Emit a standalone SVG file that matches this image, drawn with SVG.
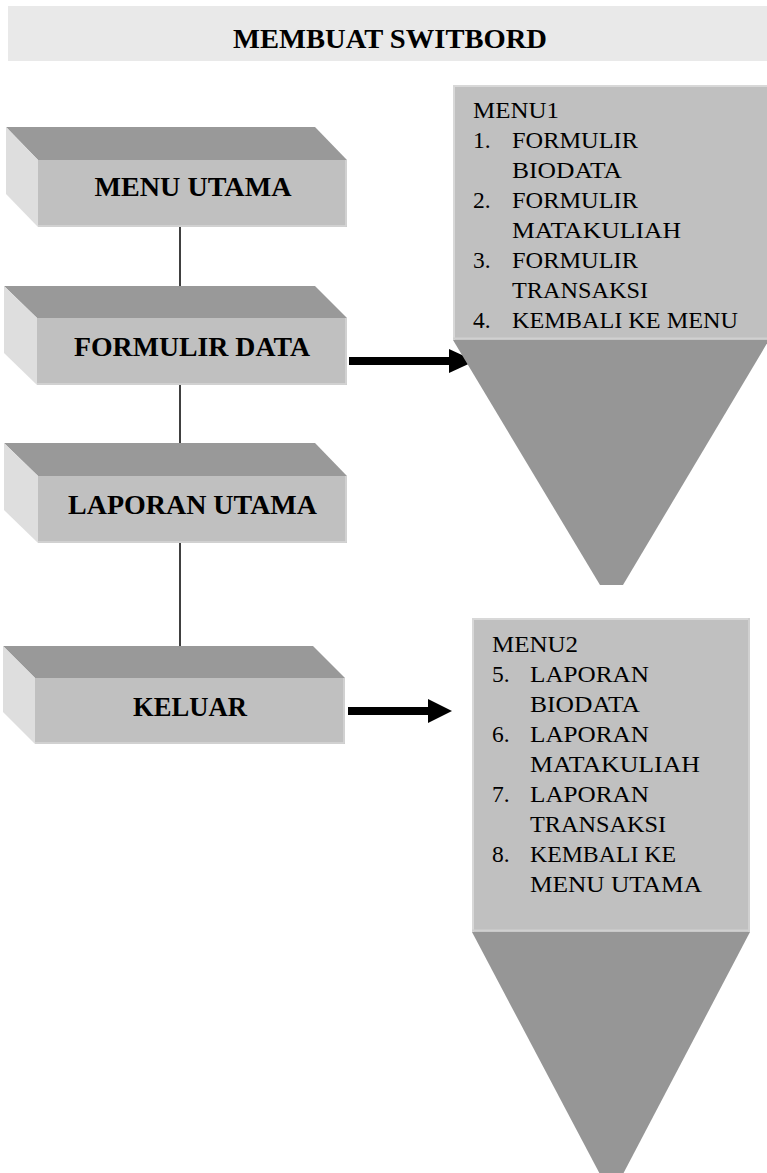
<svg xmlns="http://www.w3.org/2000/svg" width="767" height="1173" viewBox="0 0 767 1173">
  <style>
    .top { fill: #999999; }
    .side { fill: #dedede; }
    .front { fill: #c0c0c0; }
    .edge { fill: none; stroke: #d6d6d6; stroke-width: 1.5; }
    .label { font-family: "Liberation Serif", "Times New Roman", serif; font-weight: bold; font-size: 27px; fill: #000; text-anchor: middle; }
    .item { font-family: "Liberation Serif", "Times New Roman", serif; font-size: 23.5px; fill: #000; }
    .panel { fill: #c0c0c0; }
    .funnel { fill: #969696; }
    .link { stroke: #000; stroke-width: 1.5; fill: none; }
    .shaft { stroke: #000; stroke-width: 8; fill: none; }
  </style>

  <!-- title band -->
  <g id="title">
    <rect x="8" y="6" width="759" height="55" fill="#e9e9e9"/>
    <text class="label" x="390" y="48" textLength="314" lengthAdjust="spacingAndGlyphs">MEMBUAT SWITBORD</text>
  </g>

  <!-- connectors -->
  <g id="connectors">
    <line class="link" x1="180" y1="227" x2="180" y2="286"/>
    <line class="link" x1="180" y1="385" x2="180" y2="443"/>
    <line class="link" x1="180" y1="543" x2="180" y2="646"/>
    <line class="shaft" x1="349" y1="361" x2="452" y2="361"/>
    <polygon points="449,349 475,361 449,373" fill="#000"/>
    <line class="shaft" x1="348" y1="711" x2="430" y2="711"/>
    <polygon points="428,699 452,711 428,723" fill="#000"/>
  </g>

  <!-- MENU UTAMA -->
  <g id="menu-utama">
    <polygon class="top" points="6,127 315,127 347,160 38,160"/>
    <polygon class="side" points="6,127 38,160 38,227 6,194"/>
    <rect class="front" x="38" y="160" width="309" height="67"/>
    <polyline class="edge" points="346,160 346,226 38,226"/>
    <text class="label" x="193" y="196" textLength="197" lengthAdjust="spacingAndGlyphs">MENU UTAMA</text>
  </g>

  <!-- FORMULIR DATA -->
  <g id="formulir-data">
    <polygon class="top" points="4,286 315,286 347,318 37,318"/>
    <polygon class="side" points="4,286 37,318 37,385 4,353"/>
    <rect class="front" x="37" y="318" width="310" height="67"/>
    <polyline class="edge" points="346,318 346,384 37,384"/>
    <text class="label" x="192" y="356" textLength="236" lengthAdjust="spacingAndGlyphs">FORMULIR DATA</text>
  </g>

  <!-- LAPORAN UTAMA -->
  <g id="laporan-utama">
    <polygon class="top" points="4,443 315,443 347,476 38,476"/>
    <polygon class="side" points="4,443 38,476 38,543 4,510"/>
    <rect class="front" x="38" y="476" width="309" height="67"/>
    <polyline class="edge" points="346,476 346,542 38,542"/>
    <text class="label" x="192.5" y="514" textLength="249" lengthAdjust="spacingAndGlyphs">LAPORAN UTAMA</text>
  </g>

  <!-- KELUAR -->
  <g id="keluar">
    <polygon class="top" points="3,646 313,646 345,678 35,678"/>
    <polygon class="side" points="3,646 35,678 35,744 3,712"/>
    <rect class="front" x="35" y="678" width="310" height="66"/>
    <polyline class="edge" points="344,678 344,743 35,743"/>
    <text class="label" x="190" y="716" textLength="114" lengthAdjust="spacingAndGlyphs">KELUAR</text>
  </g>

  <!-- MENU1 panel -->
  <g id="menu1">
    <polygon class="funnel" points="453,340 769,340 623,585 600,585"/>
    <rect class="panel" x="453" y="85" width="316" height="255"/>
    <line x1="453" y1="86" x2="767" y2="86" stroke="#d8d8d8" stroke-width="2"/>
    <line x1="454" y1="85" x2="454" y2="340" stroke="#d8d8d8" stroke-width="2"/>
    <line x1="453" y1="338.5" x2="767" y2="338.5" stroke="#d0d0d0" stroke-width="2"/>
    <text class="item" x="473" y="118" textLength="86" lengthAdjust="spacingAndGlyphs">MENU1</text>
    <text class="item" x="473" y="148">1.</text>
    <text class="item" x="512" y="148" textLength="126" lengthAdjust="spacingAndGlyphs">FORMULIR</text>
    <text class="item" x="512" y="178" textLength="110" lengthAdjust="spacingAndGlyphs">BIODATA</text>
    <text class="item" x="473" y="208">2.</text>
    <text class="item" x="512" y="208" textLength="126" lengthAdjust="spacingAndGlyphs">FORMULIR</text>
    <text class="item" x="512" y="238" textLength="169" lengthAdjust="spacingAndGlyphs">MATAKULIAH</text>
    <text class="item" x="473" y="268">3.</text>
    <text class="item" x="512" y="268" textLength="126" lengthAdjust="spacingAndGlyphs">FORMULIR</text>
    <text class="item" x="512" y="298" textLength="136" lengthAdjust="spacingAndGlyphs">TRANSAKSI</text>
    <text class="item" x="473" y="328">4.</text>
    <text class="item" x="512" y="328" textLength="226" lengthAdjust="spacingAndGlyphs">KEMBALI KE MENU</text>
  </g>

  <!-- MENU2 panel -->
  <g id="menu2">
    <polygon class="funnel" points="472,932 750,932 611.5,1196"/>
    <rect class="panel" x="472" y="618" width="278" height="314"/>
    <line x1="472" y1="619" x2="750" y2="619" stroke="#d8d8d8" stroke-width="2"/>
    <line x1="473" y1="618" x2="473" y2="932" stroke="#d8d8d8" stroke-width="2"/>
    <line x1="749" y1="618" x2="749" y2="932" stroke="#d0d0d0" stroke-width="2"/>
    <line x1="472" y1="930.5" x2="750" y2="930.5" stroke="#d0d0d0" stroke-width="2"/>
    <text class="item" x="492" y="652" textLength="86" lengthAdjust="spacingAndGlyphs">MENU2</text>
    <text class="item" x="492" y="682">5.</text>
    <text class="item" x="530" y="682" textLength="119" lengthAdjust="spacingAndGlyphs">LAPORAN</text>
    <text class="item" x="530" y="712" textLength="110" lengthAdjust="spacingAndGlyphs">BIODATA</text>
    <text class="item" x="492" y="742">6.</text>
    <text class="item" x="530" y="742" textLength="119" lengthAdjust="spacingAndGlyphs">LAPORAN</text>
    <text class="item" x="530" y="772" textLength="170" lengthAdjust="spacingAndGlyphs">MATAKULIAH</text>
    <text class="item" x="492" y="802">7.</text>
    <text class="item" x="530" y="802" textLength="119" lengthAdjust="spacingAndGlyphs">LAPORAN</text>
    <text class="item" x="530" y="832" textLength="136" lengthAdjust="spacingAndGlyphs">TRANSAKSI</text>
    <text class="item" x="492" y="862">8.</text>
    <text class="item" x="530" y="862" textLength="146" lengthAdjust="spacingAndGlyphs">KEMBALI KE</text>
    <text class="item" x="530" y="892" textLength="172" lengthAdjust="spacingAndGlyphs">MENU UTAMA</text>
  </g>
</svg>
